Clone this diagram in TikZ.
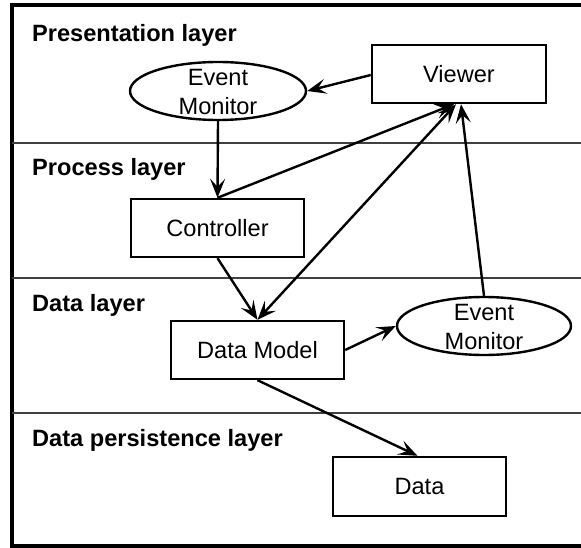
\documentclass[tikz,border=0pt]{standalone}
\usepackage{fontspec}
\setmainfont{Liberation Sans}
\usetikzlibrary{arrows.meta,shapes.geometric}
\begin{document}
\begin{tikzpicture}[x=1pt,y=-1pt,
  every node/.style={font=\fontsize{23.6}{28.3}\selectfont},
  box/.style={draw,line width=2.4pt,rectangle,minimum width=174pt,minimum height=58pt,inner sep=0pt},
  emon/.style={draw,line width=2.4pt,ellipse,minimum width=176pt,minimum height=58pt,inner sep=0pt},
  lay/.style={anchor=base west,inner sep=0pt,font=\fontsize{23.6}{28.3}\selectfont\bfseries},
  sep/.style={line width=1.2pt,black!75},
  tip/.tip={Stealth[length=19pt,width=15pt,inset=8pt]},
  conn/.style={line width=2.4pt,-tip},
  conn2/.style={line width=2.4pt,tip-tip}
]
\useasboundingbox (0,0) rectangle (581,548);
\clip (0,0) rectangle (581,548);
\draw[line width=3.5pt] (12,5) rectangle (600,546);
\draw[sep] (12,143) -- (600,143);
\draw[sep] (12,278) -- (600,278);
\draw[sep] (12,413) -- (600,413);

\node[lay] (l1) at (32,42) {Presentation layer};
\node[lay] (l2) at (32,176) {Process layer};
\node[lay] (l3) at (32,311) {Data layer};
\node[lay] (l4) at (32,446) {Data persistence layer};

\node[box] (viewer) at (459,74) {Viewer};
\node[emon] (em1) at (218,91) {};
\node[align=center,inner sep=0pt] (em1t) at (218,92) {Event\\Monitor};
\node[box,minimum width=173pt] (ctrl) at (217.5,228) {Controller};
\node[box,minimum width=173pt] (dm) at (257.5,350) {Data Model};
\node[emon,minimum width=174pt] (em2) at (484,326) {};
\node[align=center,inner sep=0pt] (em2t) at (484,327) {Event\\Monitor};
\node[box,minimum width=173pt,minimum height=59pt] (data) at (419.5,486.5) {Data};

\draw[conn] (viewer.west |- 0,75) -- (em1.east);
\draw[conn] (em1.south) -- (ctrl.north);
\draw[conn] (ctrl.north) -- ([xshift=-5pt]viewer.south);
\draw[conn2] (dm.north) -- ([xshift=-3pt]viewer.south);
\draw[conn] (ctrl.south) -- (dm.north);
\draw[conn] (em2.north) -- ([xshift=2pt]viewer.south);
\draw[conn] (dm.east) -- (em2.west);
\draw[conn] (dm.south) -- ([xshift=-2pt]data.north);
\end{tikzpicture}
\end{document}
